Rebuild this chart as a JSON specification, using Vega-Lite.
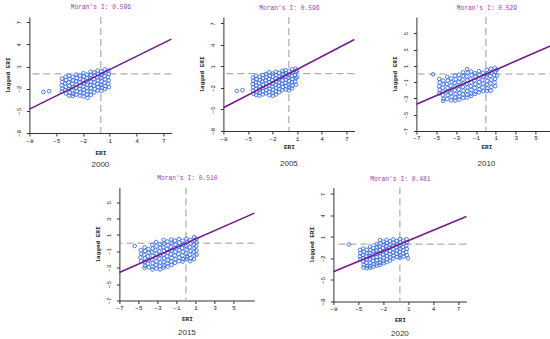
{
"$schema": "https://vega.github.io/schema/vega-lite/v6.json",
"padding": {"left": 4, "top": 3, "right": 0, "bottom": 0},
"background": "white",
"config": {
  "view": {"stroke": null},
  "axis": {"grid": false, "domainColor": "#333", "tickColor": "#333", "tickSize": 3, "labelFont": "Liberation Mono", "labelFontSize": 6, "labelColor": "#222", "titleFont": "Liberation Mono", "titleFontSize": 6, "titleFontWeight": "bold", "titleColor": "#222", "labelOverlap": false, "labelFlush": false},
  "axisX": {"labelPadding": 1, "minExtent": 10, "maxExtent": 10},
  "axisY": {"labelAngle": -90, "labelAlign": "center", "labelBaseline": "bottom", "labelPadding": 5, "minExtent": 14, "maxExtent": 14, "titlePadding": 4.5},
  "title": {"font": "Liberation Sans", "fontSize": 8, "fontWeight": "normal", "color": "#333", "orient": "bottom", "anchor": "middle", "frame": "group"}
},
"datasets": {
"d2000": [
{"x":-6.43,"y":-2.45},{"x":-5.8,"y":-2.35},
{"x":-4.35,"y":-0.65},{"x":-4.3,"y":-1.1},{"x":-4.4,"y":-1.55},{"x":-4.32,"y":-2.0},{"x":-4.38,"y":-2.4},
{"x":-3.95,"y":-0.4},{"x":-3.9,"y":-0.85},{"x":-4.0,"y":-1.3},{"x":-3.93,"y":-1.75},{"x":-3.97,"y":-2.2},{"x":-3.9,"y":-2.65},
{"x":-3.55,"y":-0.25},{"x":-3.5,"y":-0.7},{"x":-3.6,"y":-1.15},{"x":-3.52,"y":-1.6},{"x":-3.58,"y":-2.05},{"x":-3.5,"y":-2.5},{"x":-3.55,"y":-2.95},
{"x":-3.15,"y":-0.4},{"x":-3.1,"y":-0.9},{"x":-3.2,"y":-1.35},{"x":-3.12,"y":-1.8},{"x":-3.18,"y":-2.25},{"x":-3.1,"y":-2.7},{"x":-3.15,"y":-3.0},
{"x":-2.75,"y":-0.1},{"x":-2.7,"y":-0.55},{"x":-2.8,"y":-1.0},{"x":-2.72,"y":-1.45},{"x":-2.78,"y":-1.9},{"x":-2.7,"y":-2.35},{"x":-2.75,"y":-2.8},
{"x":-2.35,"y":-0.25},{"x":-2.3,"y":-0.7},{"x":-2.4,"y":-1.15},{"x":-2.32,"y":-1.6},{"x":-2.38,"y":-2.05},{"x":-2.3,"y":-2.5},{"x":-2.35,"y":-2.95},
{"x":-1.95,"y":0.1},{"x":-1.9,"y":-0.35},{"x":-2.0,"y":-0.8},{"x":-1.92,"y":-1.25},{"x":-1.98,"y":-1.7},{"x":-1.9,"y":-2.15},{"x":-1.95,"y":-2.6},{"x":-1.93,"y":-3.05},
{"x":-1.55,"y":-0.1},{"x":-1.5,"y":-0.55},{"x":-1.6,"y":-1.0},{"x":-1.52,"y":-1.45},{"x":-1.58,"y":-1.9},{"x":-1.5,"y":-2.35},{"x":-1.55,"y":-2.8},{"x":-1.5,"y":-3.25},
{"x":-1.15,"y":0.3},{"x":-1.1,"y":-0.15},{"x":-1.2,"y":-0.6},{"x":-1.12,"y":-1.05},{"x":-1.18,"y":-1.5},{"x":-1.1,"y":-1.95},{"x":-1.15,"y":-2.4},{"x":-1.12,"y":-2.85},
{"x":-0.75,"y":0.2},{"x":-0.7,"y":-0.25},{"x":-0.8,"y":-0.7},{"x":-0.72,"y":-1.15},{"x":-0.78,"y":-1.6},{"x":-0.7,"y":-2.05},{"x":-0.75,"y":-2.5},
{"x":-0.35,"y":0.45},{"x":-0.3,"y":0.0},{"x":-0.4,"y":-0.45},{"x":-0.32,"y":-0.9},{"x":-0.38,"y":-1.35},{"x":-0.3,"y":-1.8},{"x":-0.35,"y":-2.25},
{"x":0.05,"y":0.35},{"x":0.1,"y":-0.1},{"x":0.0,"y":-0.55},{"x":0.08,"y":-1.0},{"x":0.02,"y":-1.45},{"x":0.1,"y":-1.9},{"x":0.05,"y":-2.3},
{"x":0.45,"y":0.6},{"x":0.5,"y":0.15},{"x":0.4,"y":-0.3},{"x":0.48,"y":-0.75},{"x":0.42,"y":-1.2},{"x":0.5,"y":-1.65},{"x":0.45,"y":-2.05},
{"x":0.85,"y":0.45},{"x":0.9,"y":0.0},{"x":0.8,"y":-0.45},{"x":0.88,"y":-0.9},{"x":0.82,"y":-1.35},{"x":0.9,"y":-1.8}
],
"d2005": [
{"x":-6.37,"y":-2.41},{"x":-5.67,"y":-2.3},
{"x":-4.4,"y":-0.55},{"x":-4.35,"y":-1.0},{"x":-4.42,"y":-1.45},{"x":-4.36,"y":-1.9},{"x":-4.4,"y":-2.35},{"x":-4.33,"y":-2.8},
{"x":-4.0,"y":-0.3},{"x":-3.95,"y":-0.75},{"x":-4.05,"y":-1.2},{"x":-3.98,"y":-1.65},{"x":-4.02,"y":-2.1},{"x":-3.95,"y":-2.55},{"x":-4.0,"y":-2.95},
{"x":-3.6,"y":-0.45},{"x":-3.55,"y":-0.9},{"x":-3.65,"y":-1.35},{"x":-3.57,"y":-1.8},{"x":-3.63,"y":-2.25},{"x":-3.55,"y":-2.7},{"x":-3.6,"y":-3.05},
{"x":-3.2,"y":-0.2},{"x":-3.15,"y":-0.65},{"x":-3.25,"y":-1.1},{"x":-3.17,"y":-1.55},{"x":-3.23,"y":-2.0},{"x":-3.15,"y":-2.45},{"x":-3.2,"y":-2.9},
{"x":-2.8,"y":-0.05},{"x":-2.75,"y":-0.5},{"x":-2.85,"y":-0.95},{"x":-2.77,"y":-1.4},{"x":-2.83,"y":-1.85},{"x":-2.75,"y":-2.3},{"x":-2.8,"y":-2.75},
{"x":-2.4,"y":0.2},{"x":-2.35,"y":-0.3},{"x":-2.45,"y":-0.75},{"x":-2.37,"y":-1.2},{"x":-2.43,"y":-1.65},{"x":-2.35,"y":-2.1},{"x":-2.4,"y":-2.55},{"x":-2.38,"y":-3.0},
{"x":-2.0,"y":0.0},{"x":-1.95,"y":-0.45},{"x":-2.05,"y":-0.9},{"x":-1.97,"y":-1.35},{"x":-2.03,"y":-1.8},{"x":-1.95,"y":-2.25},{"x":-2.0,"y":-2.7},{"x":-1.97,"y":-3.1},
{"x":-1.6,"y":0.25},{"x":-1.55,"y":-0.2},{"x":-1.65,"y":-0.65},{"x":-1.57,"y":-1.1},{"x":-1.63,"y":-1.55},{"x":-1.55,"y":-2.0},{"x":-1.6,"y":-2.45},{"x":-1.58,"y":-2.9},
{"x":-1.2,"y":0.1},{"x":-1.15,"y":-0.35},{"x":-1.25,"y":-0.8},{"x":-1.17,"y":-1.25},{"x":-1.23,"y":-1.7},{"x":-1.15,"y":-2.15},{"x":-1.2,"y":-2.6},
{"x":-0.8,"y":0.4},{"x":-0.75,"y":-0.05},{"x":-0.85,"y":-0.5},{"x":-0.77,"y":-0.95},{"x":-0.83,"y":-1.4},{"x":-0.75,"y":-1.85},{"x":-0.8,"y":-2.3},
{"x":-0.4,"y":0.5},{"x":-0.35,"y":0.05},{"x":-0.45,"y":-0.4},{"x":-0.37,"y":-0.85},{"x":-0.43,"y":-1.3},{"x":-0.35,"y":-1.75},{"x":-0.4,"y":-2.2},
{"x":0.0,"y":0.3},{"x":0.05,"y":-0.15},{"x":-0.05,"y":-0.6},{"x":0.03,"y":-1.05},{"x":-0.03,"y":-1.5},{"x":0.05,"y":-1.95},{"x":0.0,"y":-2.35},
{"x":0.4,"y":0.6},{"x":0.45,"y":0.15},{"x":0.35,"y":-0.3},{"x":0.43,"y":-0.75},{"x":0.37,"y":-1.2},{"x":0.45,"y":-1.65},{"x":0.4,"y":-2.05},
{"x":0.8,"y":0.7},{"x":0.85,"y":0.25},{"x":0.75,"y":-0.2},{"x":0.83,"y":-0.65},{"x":0.77,"y":-1.1},{"x":0.85,"y":-1.55},
{"x":0.98,"y":0.4},{"x":1.0,"y":-0.5}
],
"d2010": [
{"x":-5.32,"y":-0.04},
{"x":-4.7,"y":-0.6},{"x":-4.65,"y":-1.05},{"x":-4.72,"y":-1.5},{"x":-4.66,"y":-1.95},{"x":-4.7,"y":-2.4},
{"x":-4.3,"y":-0.8},{"x":-4.25,"y":-1.25},{"x":-4.35,"y":-1.7},{"x":-4.27,"y":-2.15},{"x":-4.33,"y":-2.6},{"x":-4.25,"y":-3.05},{"x":-4.3,"y":-3.3},
{"x":-3.9,"y":-0.35},{"x":-3.85,"y":-0.8},{"x":-3.95,"y":-1.25},{"x":-3.87,"y":-1.7},{"x":-3.93,"y":-2.15},{"x":-3.85,"y":-2.6},{"x":-3.9,"y":-3.05},
{"x":-3.5,"y":-0.55},{"x":-3.45,"y":-1.0},{"x":-3.55,"y":-1.45},{"x":-3.47,"y":-1.9},{"x":-3.53,"y":-2.35},{"x":-3.45,"y":-2.8},{"x":-3.5,"y":-3.25},
{"x":-3.1,"y":-0.2},{"x":-3.05,"y":-0.65},{"x":-3.15,"y":-1.1},{"x":-3.07,"y":-1.55},{"x":-3.13,"y":-2.0},{"x":-3.05,"y":-2.45},{"x":-3.1,"y":-2.9},{"x":-3.08,"y":-3.25},
{"x":-2.7,"y":-0.1},{"x":-2.65,"y":-0.55},{"x":-2.75,"y":-1.0},{"x":-2.67,"y":-1.45},{"x":-2.73,"y":-1.9},{"x":-2.65,"y":-2.35},{"x":-2.7,"y":-2.8},{"x":-2.68,"y":-3.15},
{"x":-2.3,"y":0.2},{"x":-2.25,"y":-0.25},{"x":-2.35,"y":-0.7},{"x":-2.27,"y":-1.15},{"x":-2.33,"y":-1.6},{"x":-2.25,"y":-2.05},{"x":-2.3,"y":-2.5},{"x":-2.28,"y":-2.95},
{"x":-1.9,"y":0.6},{"x":-1.85,"y":0.15},{"x":-1.95,"y":-0.3},{"x":-1.87,"y":-0.75},{"x":-1.93,"y":-1.2},{"x":-1.85,"y":-1.65},{"x":-1.9,"y":-2.1},{"x":-1.88,"y":-2.55},{"x":-1.9,"y":-2.9},
{"x":-1.5,"y":0.3},{"x":-1.45,"y":-0.15},{"x":-1.55,"y":-0.6},{"x":-1.47,"y":-1.05},{"x":-1.53,"y":-1.5},{"x":-1.45,"y":-1.95},{"x":-1.5,"y":-2.4},{"x":-1.48,"y":-2.7},
{"x":-1.1,"y":0.1},{"x":-1.05,"y":-0.35},{"x":-1.15,"y":-0.8},{"x":-1.07,"y":-1.25},{"x":-1.13,"y":-1.7},{"x":-1.05,"y":-2.15},{"x":-1.1,"y":-2.45},
{"x":-0.7,"y":0.35},{"x":-0.65,"y":-0.1},{"x":-0.75,"y":-0.55},{"x":-0.67,"y":-1.0},{"x":-0.73,"y":-1.45},{"x":-0.65,"y":-1.9},{"x":-0.7,"y":-2.25},
{"x":-0.3,"y":0.15},{"x":-0.25,"y":-0.3},{"x":-0.35,"y":-0.75},{"x":-0.27,"y":-1.2},{"x":-0.33,"y":-1.65},{"x":-0.25,"y":-2.1},
{"x":0.1,"y":0.5},{"x":0.15,"y":0.05},{"x":0.05,"y":-0.4},{"x":0.13,"y":-0.85},{"x":0.07,"y":-1.3},{"x":0.15,"y":-1.75},{"x":0.1,"y":-2.1},
{"x":0.5,"y":0.65},{"x":0.55,"y":0.2},{"x":0.45,"y":-0.25},{"x":0.53,"y":-0.7},{"x":0.47,"y":-1.15},{"x":0.55,"y":-1.6},{"x":0.5,"y":-2.05},
{"x":0.9,"y":0.75},{"x":0.95,"y":0.3},{"x":0.85,"y":-0.15},{"x":0.93,"y":-0.6},{"x":0.87,"y":-1.05},{"x":0.95,"y":-1.5},
{"x":1.1,"y":0.5},{"x":1.12,"y":-0.2}
],
"d2015": [
{"x":-5.39,"y":-0.35},
{"x":-4.75,"y":-0.85},{"x":-4.7,"y":-1.3},{"x":-4.78,"y":-1.75},{"x":-4.72,"y":-2.2},
{"x":-4.35,"y":-0.5},{"x":-4.3,"y":-0.95},{"x":-4.4,"y":-1.4},{"x":-4.32,"y":-1.85},{"x":-4.38,"y":-2.3},{"x":-4.3,"y":-2.75},{"x":-4.35,"y":-3.0},
{"x":-3.95,"y":-0.7},{"x":-3.9,"y":-1.15},{"x":-4.0,"y":-1.6},{"x":-3.92,"y":-2.05},{"x":-3.98,"y":-2.5},{"x":-3.9,"y":-2.95},
{"x":-3.55,"y":-0.2},{"x":-3.5,"y":-0.65},{"x":-3.6,"y":-1.1},{"x":-3.52,"y":-1.55},{"x":-3.58,"y":-2.0},{"x":-3.5,"y":-2.45},{"x":-3.55,"y":-2.9},{"x":-3.52,"y":-3.2},
{"x":-3.15,"y":0.15},{"x":-3.1,"y":-0.4},{"x":-3.2,"y":-0.85},{"x":-3.12,"y":-1.3},{"x":-3.18,"y":-1.75},{"x":-3.1,"y":-2.2},{"x":-3.15,"y":-2.65},{"x":-3.12,"y":-3.1},
{"x":-2.75,"y":-0.1},{"x":-2.7,"y":-0.55},{"x":-2.8,"y":-1.0},{"x":-2.72,"y":-1.45},{"x":-2.78,"y":-1.9},{"x":-2.7,"y":-2.35},{"x":-2.75,"y":-2.8},{"x":-2.72,"y":-3.2},
{"x":-2.35,"y":0.4},{"x":-2.3,"y":-0.05},{"x":-2.4,"y":-0.5},{"x":-2.32,"y":-0.95},{"x":-2.38,"y":-1.4},{"x":-2.3,"y":-1.85},{"x":-2.35,"y":-2.3},{"x":-2.32,"y":-2.75},{"x":-2.35,"y":-3.0},
{"x":-1.95,"y":0.2},{"x":-1.9,"y":-0.25},{"x":-2.0,"y":-0.7},{"x":-1.92,"y":-1.15},{"x":-1.98,"y":-1.6},{"x":-1.9,"y":-2.05},{"x":-1.95,"y":-2.5},{"x":-1.92,"y":-2.85},
{"x":-1.55,"y":0.45},{"x":-1.5,"y":0.0},{"x":-1.6,"y":-0.45},{"x":-1.52,"y":-0.9},{"x":-1.58,"y":-1.35},{"x":-1.5,"y":-1.8},{"x":-1.55,"y":-2.25},{"x":-1.52,"y":-2.65},
{"x":-1.15,"y":0.3},{"x":-1.1,"y":-0.15},{"x":-1.2,"y":-0.6},{"x":-1.12,"y":-1.05},{"x":-1.18,"y":-1.5},{"x":-1.1,"y":-1.95},{"x":-1.15,"y":-2.4},
{"x":-0.75,"y":0.5},{"x":-0.7,"y":0.05},{"x":-0.8,"y":-0.4},{"x":-0.72,"y":-0.85},{"x":-0.78,"y":-1.3},{"x":-0.7,"y":-1.75},{"x":-0.75,"y":-2.2},
{"x":-0.35,"y":0.3},{"x":-0.3,"y":-0.15},{"x":-0.4,"y":-0.6},{"x":-0.32,"y":-1.05},{"x":-0.38,"y":-1.5},{"x":-0.3,"y":-1.95},{"x":-0.35,"y":-2.25},
{"x":0.05,"y":0.55},{"x":0.1,"y":0.1},{"x":0.0,"y":-0.35},{"x":0.08,"y":-0.8},{"x":0.02,"y":-1.25},{"x":0.1,"y":-1.7},{"x":0.05,"y":-1.95},
{"x":0.45,"y":0.4},{"x":0.5,"y":-0.05},{"x":0.4,"y":-0.5},{"x":0.48,"y":-0.95},{"x":0.42,"y":-1.4},{"x":0.5,"y":-1.85},{"x":0.45,"y":-2.2},
{"x":0.85,"y":0.75},{"x":0.9,"y":0.3},{"x":0.8,"y":-0.15},{"x":0.88,"y":-0.6},{"x":0.82,"y":-1.05},{"x":0.9,"y":-1.5},{"x":0.85,"y":-1.95},
{"x":1.1,"y":0.55},{"x":1.12,"y":0.1},{"x":1.08,"y":-0.4},{"x":1.1,"y":-0.9},{"x":1.12,"y":-1.4}
],
"d2020": [
{"x":-6.15,"y":-0.04},{"x":0.98,"y":-1.98},
{"x":-4.8,"y":-0.8},{"x":-4.75,"y":-1.25},{"x":-4.82,"y":-1.7},{"x":-4.77,"y":-2.1},
{"x":-4.4,"y":-0.6},{"x":-4.35,"y":-1.05},{"x":-4.45,"y":-1.5},{"x":-4.37,"y":-1.95},{"x":-4.43,"y":-2.4},{"x":-4.35,"y":-2.85},{"x":-4.4,"y":-3.25},
{"x":-4.0,"y":-0.8},{"x":-3.95,"y":-1.25},{"x":-4.05,"y":-1.7},{"x":-3.97,"y":-2.15},{"x":-4.03,"y":-2.6},{"x":-3.95,"y":-3.05},{"x":-4.0,"y":-3.35},
{"x":-3.6,"y":-0.35},{"x":-3.55,"y":-0.8},{"x":-3.65,"y":-1.25},{"x":-3.57,"y":-1.7},{"x":-3.63,"y":-2.15},{"x":-3.55,"y":-2.6},{"x":-3.6,"y":-3.05},{"x":-3.58,"y":-3.3},
{"x":-3.2,"y":-0.55},{"x":-3.15,"y":-1.0},{"x":-3.25,"y":-1.45},{"x":-3.17,"y":-1.9},{"x":-3.23,"y":-2.35},{"x":-3.15,"y":-2.8},{"x":-3.2,"y":-3.15},
{"x":-2.8,"y":0.0},{"x":-2.75,"y":-0.45},{"x":-2.85,"y":-0.9},{"x":-2.77,"y":-1.35},{"x":-2.83,"y":-1.8},{"x":-2.75,"y":-2.25},{"x":-2.8,"y":-2.7},{"x":-2.78,"y":-3.0},
{"x":-2.4,"y":0.55},{"x":-2.35,"y":0.1},{"x":-2.45,"y":-0.35},{"x":-2.37,"y":-0.8},{"x":-2.43,"y":-1.25},{"x":-2.35,"y":-1.7},{"x":-2.4,"y":-2.15},{"x":-2.38,"y":-2.6},{"x":-2.4,"y":-2.9},
{"x":-2.0,"y":0.35},{"x":-1.95,"y":-0.1},{"x":-2.05,"y":-0.55},{"x":-1.97,"y":-1.0},{"x":-2.03,"y":-1.45},{"x":-1.95,"y":-1.9},{"x":-2.0,"y":-2.35},{"x":-1.97,"y":-2.65},
{"x":-1.6,"y":0.6},{"x":-1.55,"y":0.15},{"x":-1.65,"y":-0.3},{"x":-1.57,"y":-0.75},{"x":-1.63,"y":-1.2},{"x":-1.55,"y":-1.65},{"x":-1.6,"y":-2.1},{"x":-1.58,"y":-2.5},
{"x":-1.2,"y":0.4},{"x":-1.15,"y":-0.05},{"x":-1.25,"y":-0.5},{"x":-1.17,"y":-0.95},{"x":-1.23,"y":-1.4},{"x":-1.15,"y":-1.85},{"x":-1.2,"y":-2.3},
{"x":-0.8,"y":0.65},{"x":-0.75,"y":0.2},{"x":-0.85,"y":-0.25},{"x":-0.77,"y":-0.7},{"x":-0.83,"y":-1.15},{"x":-0.75,"y":-1.6},{"x":-0.8,"y":-2.0},
{"x":-0.4,"y":0.45},{"x":-0.35,"y":0.0},{"x":-0.45,"y":-0.45},{"x":-0.37,"y":-0.9},{"x":-0.43,"y":-1.35},{"x":-0.35,"y":-1.8},
{"x":0.0,"y":0.7},{"x":0.05,"y":0.25},{"x":-0.05,"y":-0.2},{"x":0.03,"y":-0.65},{"x":-0.03,"y":-1.1},{"x":0.05,"y":-1.55},{"x":0.0,"y":-1.9},
{"x":0.4,"y":0.5},{"x":0.45,"y":0.05},{"x":0.35,"y":-0.4},{"x":0.43,"y":-0.85},{"x":0.37,"y":-1.3},{"x":0.45,"y":-1.75},
{"x":0.8,"y":0.7},{"x":0.85,"y":0.25},{"x":0.75,"y":-0.2},{"x":0.83,"y":-0.65},{"x":0.77,"y":-1.1},{"x":0.85,"y":-1.55}
]
},
"spacing": 4.5,
"center": true,
"vconcat": [
{"hconcat": [
  {"hconcat": [
    {"width": 142, "height": 116,
     "title": {"text": "2000", "offset": 6},
     "resolve": {"axis": {"x": "independent", "y": "independent"}},
     "layer": [
      {"data": {"values": [{}]}, "mark": {"type": "rule", "color": "#9a9a9a", "strokeDash": [7, 4], "strokeWidth": 1}, "encoding": {"x": {"datum": 0, "type": "quantitative", "axis": null}}},
      {"data": {"values": [{}]}, "mark": {"type": "rule", "color": "#9a9a9a", "strokeDash": [7, 4], "strokeWidth": 1}, "encoding": {"y": {"datum": 0, "type": "quantitative", "axis": null}}},
      {"data": {"name": "d2000"}, "mark": {"type": "point", "shape": "circle", "filled": false, "color": "#3b6df2", "strokeWidth": 0.9, "size": 13, "opacity": 1},
       "encoding": {
        "x": {"field": "x", "type": "quantitative", "scale": {"domain": [-8, 7.9], "nice": false, "zero": false}, "axis": {"orient": "bottom", "values": [-8, -5, -2, 1, 4, 7], "title": "ERI", "titlePadding": 6}},
        "y": {"field": "y", "type": "quantitative", "scale": {"domain": [-8, 7.7], "nice": false, "zero": false}, "axis": {"orient": "left", "values": [-8, -5, -2, 1, 4, 7], "title": "lagged ERI"}}}},
      {"data": {"values": [{"x": -8, "y": -4.768}, {"x": 7.9, "y": 4.708}]}, "mark": {"type": "line", "color": "#741a8c", "strokeWidth": 1.6},
       "encoding": {
        "x": {"field": "x", "type": "quantitative", "axis": {"orient": "top", "domain": false, "ticks": false, "labels": false, "title": "Moran's I: 0.596", "titleColor": "#9b3fae", "titleFontSize": 6.3, "titleFontWeight": "normal", "titlePadding": 7.5, "minExtent": 0, "maxExtent": 0}},
        "y": {"field": "y", "type": "quantitative", "axis": null}}}
     ]},
    {"width": 131, "height": 114,
     "title": {"text": "2005", "offset": 10},
     "resolve": {"axis": {"x": "independent", "y": "independent"}},
     "layer": [
      {"data": {"values": [{}]}, "mark": {"type": "rule", "color": "#9a9a9a", "strokeDash": [7, 4], "strokeWidth": 1}, "encoding": {"x": {"datum": 0, "type": "quantitative", "axis": null}}},
      {"data": {"values": [{}]}, "mark": {"type": "rule", "color": "#9a9a9a", "strokeDash": [7, 4], "strokeWidth": 1}, "encoding": {"y": {"datum": 0, "type": "quantitative", "axis": null}}},
      {"data": {"name": "d2005"}, "mark": {"type": "point", "shape": "circle", "filled": false, "color": "#3b6df2", "strokeWidth": 0.9, "size": 13, "opacity": 1},
       "encoding": {
        "x": {"field": "x", "type": "quantitative", "scale": {"domain": [-8, 8], "nice": false, "zero": false}, "axis": {"orient": "bottom", "values": [-8, -5, -2, 1, 4, 7], "title": "ERI", "titlePadding": 2.7}},
        "y": {"field": "y", "type": "quantitative", "scale": {"domain": [-8, 7.9], "nice": false, "zero": false}, "axis": {"orient": "left", "values": [-8, -5, -2, 1, 4, 7], "title": "lagged ERI"}}}},
      {"data": {"values": [{"x": -8, "y": -4.768}, {"x": 8, "y": 4.768}]}, "mark": {"type": "line", "color": "#741a8c", "strokeWidth": 1.6},
       "encoding": {
        "x": {"field": "x", "type": "quantitative", "axis": {"orient": "top", "domain": false, "ticks": false, "labels": false, "title": "Moran's I: 0.596", "titleColor": "#9b3fae", "titleFontSize": 6.3, "titleFontWeight": "normal", "titlePadding": 6.5, "minExtent": 0, "maxExtent": 0}},
        "y": {"field": "y", "type": "quantitative", "axis": null}}}
     ]}
  ], "spacing": 23},
  {"width": 140, "height": 114,
   "title": {"text": "2010", "offset": 10},
   "resolve": {"axis": {"x": "independent", "y": "independent"}},
   "layer": [
    {"data": {"values": [{}]}, "mark": {"type": "rule", "color": "#9a9a9a", "strokeDash": [7, 4], "strokeWidth": 1}, "encoding": {"x": {"datum": 0, "type": "quantitative", "axis": null}}},
    {"data": {"values": [{}]}, "mark": {"type": "rule", "color": "#9a9a9a", "strokeDash": [7, 4], "strokeWidth": 1}, "encoding": {"y": {"datum": 0, "type": "quantitative", "axis": null}}},
    {"data": {"name": "d2010"}, "mark": {"type": "point", "shape": "circle", "filled": false, "color": "#3b6df2", "strokeWidth": 0.9, "size": 13, "opacity": 1},
     "encoding": {
      "x": {"field": "x", "type": "quantitative", "scale": {"domain": [-7, 7.1], "nice": false, "zero": false}, "axis": {"orient": "bottom", "values": [-7, -5, -3, -1, 1, 3, 5], "title": "ERI", "titlePadding": 2.7, "labelPadding": 0}},
      "y": {"field": "y", "type": "quantitative", "scale": {"domain": [-7, 7], "nice": false, "zero": false}, "axis": {"orient": "left", "values": [-7, -5, -3, -1, 1, 3, 5], "title": "lagged ERI"}}}},
    {"data": {"values": [{"x": -7, "y": -3.703}, {"x": 7.1, "y": 3.756}]}, "mark": {"type": "line", "color": "#741a8c", "strokeWidth": 1.6},
     "encoding": {
      "x": {"field": "x", "type": "quantitative", "axis": {"orient": "top", "domain": false, "ticks": false, "labels": false, "title": "Moran's I: 0.529", "titleColor": "#9b3fae", "titleFontSize": 6.3, "titleFontWeight": "normal", "titlePadding": 6.5, "minExtent": 0, "maxExtent": 0}},
      "y": {"field": "y", "type": "quantitative", "axis": null}}}
   ]}
 ], "spacing": 33},
{"hconcat": [
  {"width": 135, "height": 113,
   "title": {"text": "2015", "offset": 7.5},
   "resolve": {"axis": {"x": "independent", "y": "independent"}},
   "layer": [
    {"data": {"values": [{}]}, "mark": {"type": "rule", "color": "#9a9a9a", "strokeDash": [7, 4], "strokeWidth": 1}, "encoding": {"x": {"datum": 0, "type": "quantitative", "axis": null}}},
    {"data": {"values": [{}]}, "mark": {"type": "rule", "color": "#9a9a9a", "strokeDash": [7, 4], "strokeWidth": 1}, "encoding": {"y": {"datum": 0, "type": "quantitative", "axis": null}}},
    {"data": {"name": "d2015"}, "mark": {"type": "point", "shape": "circle", "filled": false, "color": "#3b6df2", "strokeWidth": 0.9, "size": 13, "opacity": 1},
     "encoding": {
      "x": {"field": "x", "type": "quantitative", "scale": {"domain": [-7, 7.2], "nice": false, "zero": false}, "axis": {"orient": "bottom", "values": [-7, -5, -3, -1, 1, 3, 5], "title": "ERI", "titlePadding": 4.5}},
      "y": {"field": "y", "type": "quantitative", "scale": {"domain": [-7, 6.8], "nice": false, "zero": false}, "axis": {"orient": "left", "values": [-7, -5, -3, -1, 1, 3, 5], "title": "lagged ERI"}}}},
    {"data": {"values": [{"x": -7, "y": -3.57}, {"x": 7.2, "y": 3.672}]}, "mark": {"type": "line", "color": "#741a8c", "strokeWidth": 1.6},
     "encoding": {
      "x": {"field": "x", "type": "quantitative", "axis": {"orient": "top", "domain": false, "ticks": false, "labels": false, "title": "Moran's I: 0.510", "titleColor": "#9b3fae", "titleFontSize": 6.3, "titleFontWeight": "normal", "titlePadding": 7.5, "minExtent": 0, "maxExtent": 0}},
      "y": {"field": "y", "type": "quantitative", "axis": null}}}
   ]},
  {"width": 133, "height": 114,
   "title": {"text": "2020", "offset": 7.5},
   "resolve": {"axis": {"x": "independent", "y": "independent"}},
   "layer": [
    {"data": {"values": [{}]}, "mark": {"type": "rule", "color": "#9a9a9a", "strokeDash": [7, 4], "strokeWidth": 1}, "encoding": {"x": {"datum": 0, "type": "quantitative", "axis": null}}},
    {"data": {"values": [{}]}, "mark": {"type": "rule", "color": "#9a9a9a", "strokeDash": [7, 4], "strokeWidth": 1}, "encoding": {"y": {"datum": 0, "type": "quantitative", "axis": null}}},
    {"data": {"name": "d2020"}, "mark": {"type": "point", "shape": "circle", "filled": false, "color": "#3b6df2", "strokeWidth": 0.9, "size": 13, "opacity": 1},
     "encoding": {
      "x": {"field": "x", "type": "quantitative", "scale": {"domain": [-8, 8], "nice": false, "zero": false}, "axis": {"orient": "bottom", "values": [-8, -5, -2, 1, 4, 7], "title": "ERI", "titlePadding": 4.5}},
      "y": {"field": "y", "type": "quantitative", "scale": {"domain": [-8, 7.9], "nice": false, "zero": false}, "axis": {"orient": "left", "values": [-8, -5, -2, 1, 4, 7], "title": "lagged ERI"}}}},
    {"data": {"values": [{"x": -8, "y": -3.848}, {"x": 8, "y": 3.848}]}, "mark": {"type": "line", "color": "#741a8c", "strokeWidth": 1.6},
     "encoding": {
      "x": {"field": "x", "type": "quantitative", "axis": {"orient": "top", "domain": false, "ticks": false, "labels": false, "title": "Moran's I: 0.481", "titleColor": "#9b3fae", "titleFontSize": 6.3, "titleFontWeight": "normal", "titlePadding": 6.5, "minExtent": 0, "maxExtent": 0}},
      "y": {"field": "y", "type": "quantitative", "axis": null}}}
   ]}
 ], "spacing": 50}
]
}
